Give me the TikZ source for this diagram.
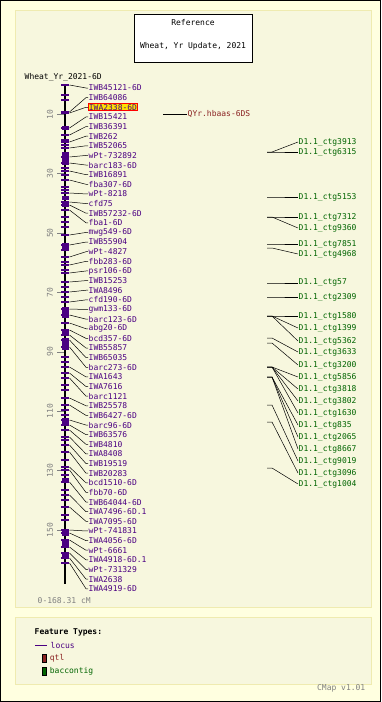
\documentclass[tikz,border=0pt]{standalone}
\usepackage{fontspec}
\newfontfamily\mapfont{DejaVu Sans Mono}
\usetikzlibrary{positioning}
\definecolor{outerbg}{HTML}{FFFFE0}
\definecolor{panelbg}{HTML}{F7F7DE}
\definecolor{panelrim}{HTML}{EFEBB0}
\definecolor{locuscol}{HTML}{4B0082}
\definecolor{qtlcol}{HTML}{8B2323}
\definecolor{ctgcol}{HTML}{006400}
\definecolor{scalecol}{HTML}{808080}

\begin{document}
\begin{tikzpicture}[x=1pt, y=-1pt, font=\mapfont\fontsize{8}{9}\selectfont,
    marker/.style={anchor=west, inner sep=0.5pt, text=locuscol},
    qtlhit/.style={marker, fill=yellow!85!orange, draw=red, line width=0.8pt},
    contig/.style={anchor=west, inner sep=0.5pt, text=ctgcol},
    bartick/.style={locuscol, line width=1.4pt},
    link/.style={black, line width=0.5pt},
    scalelab/.style={rotate=90, text=scalecol, inner sep=0pt},
    keybox/.style={draw=black, line width=0.4pt, minimum width=4pt, minimum height=8pt, inner sep=0pt}]
    \useasboundingbox (0,0) rectangle (381,702);
    % background and panels
    \fill[outerbg] (0,0) rectangle (381,702);
    \draw[black, line width=1pt] (0.5,0.5) rectangle (380.5,701.5);
    \draw[panelrim, fill=panelbg, line width=1pt] (15,10) rectangle (371,607);
    \draw[panelrim, fill=panelbg, line width=1pt] (15,617) rectangle (371,684);
    % title box
    \draw[black, fill=white, line width=0.8pt] (134,14) rectangle (252,62);
    \node (reftitle) at (193,23) {Reference};
    \node (refname) at (193,46) {Wheat, Yr Update, 2021};
    \node[anchor=west, inner sep=0.5pt] (mapname) at (24,77) {Wheat\_Yr\_2021-6D};
    % scale
    \foreach \cm in {10,30,...,150} {
        \pgfmathsetmacro\ys{84.5+2.97*\cm}
        \draw[scalecol, line width=0.6pt] (57,\ys) -- (65,\ys);
        \node[scalelab] (s\cm) at (50,\ys) {\cm};
    }
    \node[anchor=west, inner sep=0.5pt, text=scalecol] (range) at (37,601) {0-168.31 cM};
    % chromosome bar
    \draw[black, line width=2.6pt] (65,84.5) -- (65,584);
    \foreach \a/\b in {126/130,152/165,196/200,202/207,243/249,307/318,329/336,338/350,418/426,478/482,529/536,541/546,552/558}
        \fill[locuscol] (61.5,\a) rectangle (68.5,\b);
    \foreach \t in {95,100,140,145,168,175,187,190,217,222,227,250,262,270,287,297,357,362,385,390,410,415,440,460,475,490,500,515,520}
        \draw[bartick] (61,\t) -- (69,\t);
    % loci
    \foreach \name/\pos [count=\i] in {IWB45121-6D/85, IWB64086/112, IWA2338-6D/113, IWB15421/128,
        IWB36391/135, IWB262/142, IWB52065/148, wPt-732892/157, barc183-6D/163, IWB16891/171,
        fba307-6D/180, wPt-8218/193, cfd75/202, IWB57232-6D/205, fba1-6D/210, mwg549-6D/235,
        IWB55904/245, wPt-4827/257, fbb283-6D/265, psr106-6D/273, IWB15253/282, IWA8496/292,
        cfd190-6D/302, gwm133-6D/309, barc123-6D/315, abg20-6D/323, bcd357-6D/330, IWB55857/335,
        IWB65035/340, barc273-6D/347, IWA1643/367, IWA7616/373, barc1121/378, IWB25578/398,
        IWB6427-6D/405, barc96-6D/420, IWB63576/425, IWB4810/430, IWA8408/437, IWB19519/445,
        IWB20283/452, bcd1510-6D/467, fbb70-6D/470, IWB64044-6D/482, IWA7496-6D.1/495,
        IWA7095-6D/507, wPt-741831/530, IWA4056-6D/533, wPt-6661/540, IWA4918-6D.1/547,
        wPt-731329/553, IWA2638/558, IWA4919-6D/563} {
        \pgfmathsetmacro\ylab{88+9.63*(\i-1)}
        \ifnum\i=3 \def\sty{qtlhit}\else\def\sty{marker}\fi
        \draw[bartick] (61,\pos) -- (69,\pos);
        \coordinate (b\i) at (69.5,\pos);
        \node[\sty] (m\i) at (88,\ylab) {\name};
        \draw[link] (b\i) -- ([xshift=-2pt]m\i.west) -- (m\i.west);
    }
    % qtl
    \coordinate (qfoot) at (163,114);
    \node[anchor=west, inner sep=0.5pt, text=qtlcol] (qyr) at (187,114) {QYr.hbaas-6DS};
    \draw[link] (qfoot) -- (qyr.west);
    % bac contigs
    \foreach \num/\ys/\yl [count=\j] in {3913/152/142, 6315/152/152, 5153/197/197, 7312/217/217,
        9360/217/228, 7851/244/244, 4968/248/254, 57/283/283, 2309/297/297, 1580/316/316,
        1399/316/328, 5362/316/341, 3633/338/352, 3200/343/365, 5856/367/377, 3818/367/389,
        3802/367/401, 1630/367/413, 835/377/425, 2065/377/437, 8667/377/449, 9019/405/461,
        3096/422/473, 1004/468/484} {
        \coordinate (c\j) at (267,\ys);
        \node[contig] (k\j) at (298,\yl) {D1.1\_ctg\num};
        \draw[link] (c\j) -- ++(5,0) -- (k\j.west);
    }
    % legend
    \node[anchor=west, inner sep=0.5pt, font=\mapfont\bfseries\fontsize{8}{9}\selectfont] (legtitle) at (34,632) {Feature Types:};
    \coordinate (locfoot) at (35,645);
    \node[anchor=west, inner sep=0.5pt, text=locuscol] (loclab) at (50,645) {locus};
    \draw[locuscol, line width=0.8pt] (locfoot) -- ([xshift=-3pt]loclab.west);
    \node[keybox, fill=qtlcol] (qtlkey) at (44,658) {};
    \node[right=3pt of qtlkey, inner sep=0.5pt, text=qtlcol] (qtllab) {qtl};
    \node[keybox, fill=ctgcol] (ctgkey) at (44,671) {};
    \node[right=3pt of ctgkey, inner sep=0.5pt, text=ctgcol] (ctglab) {baccontig};
    \node[anchor=east, inner sep=0.5pt, text=scalecol] (version) at (366,688) {CMap v1.01};
\end{tikzpicture}
\end{document}
